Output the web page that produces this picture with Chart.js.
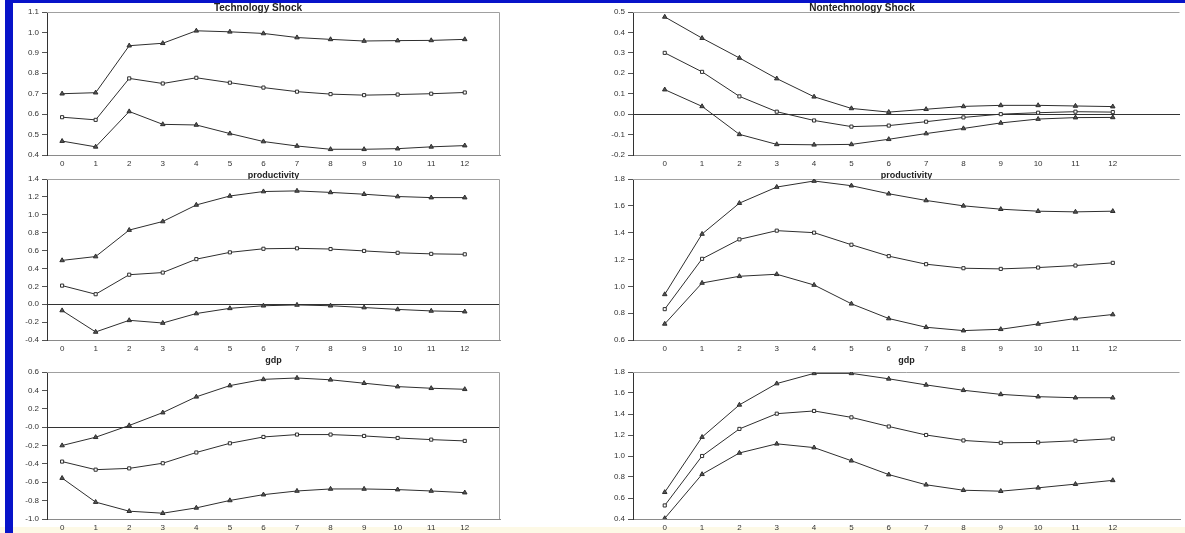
<!DOCTYPE html>
<html>
<head>
<meta charset="utf-8">
<script src="https://cdn.jsdelivr.net/npm/chart.js@4.4.1/dist/chart.umd.min.js"></script>
<style>
  html, body { margin: 0; padding: 0; }
  body { width: 1185px; height: 533px; position: relative; overflow: hidden; background: #ffffff; font-family: 'Liberation Sans', Arial, sans-serif; }
  .frame-top { position: absolute; left: 5px; top: 0px; width: 1180px; height: 3px; background: #0713c9; }
  .frame-left { position: absolute; left: 5px; top: 0px; width: 8px; height: 533px; background: #0713c9; }
  .foot { position: absolute; left: 0; top: 527px; width: 1185px; height: 6px; background: #fdf9e6; }
  .col-title { position: absolute; top: 3px; font-weight: bold; font-size: 10px; line-height: 10px; color: #222; transform: translateX(-50%); white-space: nowrap; z-index: 2; }
  .panel { position: absolute; }
</style>
</head>
<body>
<div class="foot"></div>
<div class="frame-top"></div>
<div class="frame-left"></div>
<div class="col-title" style="left:258px">Technology Shock</div>
<div class="col-title" style="left:862px">Nontechnology Shock</div>

<script>
// Horizon (quarters after the shock)
const steps = [0, 1, 2, 3, 4, 5, 6, 7, 8, 9, 10, 11, 12];

// Technology shock - productivity
const techProdUpper = [0.70, 0.705, 0.935, 0.947, 1.008, 1.003, 0.995, 0.975, 0.966, 0.958, 0.96, 0.961, 0.966];
const techProdMid   = [0.585, 0.572, 0.775, 0.75, 0.778, 0.754, 0.73, 0.71, 0.698, 0.693, 0.696, 0.70, 0.706];
const techProdLower = [0.468, 0.44, 0.613, 0.55, 0.547, 0.505, 0.466, 0.444, 0.428, 0.428, 0.431, 0.44, 0.446];
const techProdTicks = ['0.4', '0.5', '0.6', '0.7', '0.8', '0.9', '1.0', '1.1'];

// Nontechnology shock - productivity
const nonProdUpper = [0.476, 0.372, 0.275, 0.174, 0.085, 0.028, 0.01, 0.024, 0.038, 0.043, 0.043, 0.04, 0.037];
const nonProdMid   = [0.30, 0.207, 0.087, 0.012, -0.031, -0.061, -0.056, -0.037, -0.016, 0.0, 0.007, 0.012, 0.01];
const nonProdLower = [0.12, 0.038, -0.099, -0.148, -0.15, -0.148, -0.123, -0.095, -0.07, -0.043, -0.024, -0.017, -0.016];
const nonProdTicks = ['-0.2', '-0.1', '0.0', '0.1', '0.2', '0.3', '0.4', '0.5'];

// Technology shock - gdp
const techGdpUpper = [0.49, 0.533, 0.829, 0.925, 1.11, 1.21, 1.26, 1.267, 1.25, 1.23, 1.204, 1.192, 1.192];
const techGdpMid   = [0.208, 0.112, 0.33, 0.354, 0.504, 0.58, 0.62, 0.625, 0.617, 0.596, 0.575, 0.563, 0.558];
const techGdpLower = [-0.07, -0.31, -0.18, -0.21, -0.104, -0.046, -0.017, -0.008, -0.017, -0.037, -0.058, -0.075, -0.083];
const techGdpTicks = ['-0.4', '-0.2', '0.0', '0.2', '0.4', '0.6', '0.8', '1.0', '1.2', '1.4'];

// Nontechnology shock - gdp
const nonGdpUpper = [0.94, 1.39, 1.62, 1.74, 1.785, 1.75, 1.69, 1.64, 1.60, 1.575, 1.56, 1.555, 1.56];
const nonGdpMid   = [0.83, 1.205, 1.35, 1.415, 1.40, 1.31, 1.225, 1.165, 1.135, 1.13, 1.14, 1.155, 1.175];
const nonGdpLower = [0.72, 1.025, 1.075, 1.09, 1.01, 0.87, 0.76, 0.695, 0.67, 0.68, 0.72, 0.76, 0.79];
const nonGdpTicks = ['0.6', '0.8', '1.0', '1.2', '1.4', '1.6', '1.8'];

// Technology shock - hours
const techHoursUpper = [-0.2, -0.11, 0.018, 0.158, 0.33, 0.452, 0.52, 0.535, 0.515, 0.478, 0.441, 0.423, 0.412];
const techHoursMid   = [-0.375, -0.463, -0.449, -0.393, -0.276, -0.176, -0.107, -0.081, -0.081, -0.096, -0.118, -0.136, -0.15];
const techHoursLower = [-0.555, -0.816, -0.915, -0.937, -0.879, -0.798, -0.735, -0.695, -0.673, -0.673, -0.68, -0.695, -0.713];
const techHoursTicks = ['-1.0', '-0.8', '-0.6', '-0.4', '-0.2', '-0.0', '0.2', '0.4', '0.6'];

// Nontechnology shock - hours
const nonHoursUpper = [0.655, 1.18, 1.487, 1.69, 1.787, 1.787, 1.735, 1.677, 1.626, 1.587, 1.565, 1.555, 1.555];
const nonHoursMid   = [0.529, 1.0, 1.258, 1.403, 1.429, 1.368, 1.281, 1.2, 1.148, 1.126, 1.129, 1.145, 1.165];
const nonHoursLower = [0.406, 0.826, 1.029, 1.116, 1.08, 0.955, 0.823, 0.726, 0.674, 0.665, 0.697, 0.732, 0.768];
const nonHoursTicks = ['0.4', '0.6', '0.8', '1.0', '1.2', '1.4', '1.6', '1.8'];

const panelTitles = ['productivity', 'gdp', 'hours'];

// Layout of the grid (pixels)
const cols = [
  { left: 15, width: 500, axisW: 32, padRight: 15, xMin: -0.45, xMax: 13.05, rightEdge: true },
  { left: 590, width: 595, axisW: 43, padRight: 3, xMin: -0.85, xMax: 13.8, rightEdge: false }
];
const rows = [
  { top: 12, bottom: 155 },
  { top: 179, bottom: 340 },
  { top: 372, bottom: 519 }
];
const PAD_TOP = 8;
const X_AXIS_H = 26;
const INK = '#2e2e2e';

const panels = [
  { col: 0, row: 0, series: [techProdUpper, techProdMid, techProdLower], ticks: techProdTicks },
  { col: 1, row: 0, series: [nonProdUpper, nonProdMid, nonProdLower], ticks: nonProdTicks },
  { col: 0, row: 1, series: [techGdpUpper, techGdpMid, techGdpLower], ticks: techGdpTicks },
  { col: 1, row: 1, series: [nonGdpUpper, nonGdpMid, nonGdpLower], ticks: nonGdpTicks },
  { col: 0, row: 2, series: [techHoursUpper, techHoursMid, techHoursLower], ticks: techHoursTicks },
  { col: 1, row: 2, series: [nonHoursUpper, nonHoursMid, nonHoursLower], ticks: nonHoursTicks }
];

// light box on the top and right side of each plot
function frameBox(withRight) {
  return {
    id: 'frameBox',
    beforeDatasetsDraw(chart) {
      const a = chart.chartArea;
      const ctx = chart.ctx;
      ctx.save();
      ctx.strokeStyle = '#a0a0a0';
      ctx.lineWidth = 1;
      ctx.beginPath();
      ctx.moveTo(a.left, a.top + 0.5);
      ctx.lineTo(a.right - 0.5, a.top + 0.5);
      if (withRight) ctx.lineTo(a.right - 0.5, a.bottom);
      ctx.stroke();
      ctx.restore();
    }
  };
}

function makeDataset(values, marker) {
  return {
    data: values.map((v, i) => ({ x: steps[i], y: v })),
    borderColor: INK,
    borderWidth: 1,
    pointStyle: marker,
    pointRadius: marker === 'triangle' ? 2.6 : 2.2,
    pointBackgroundColor: marker === 'triangle' ? '#555' : '#fff',
    pointBorderColor: INK,
    pointBorderWidth: 1,
    tension: 0,
    fill: false
  };
}

panels.forEach(function(p) {
  const c = cols[p.col];
  const r = rows[p.row];
  const div = document.createElement('div');
  div.className = 'panel';
  const h = (r.bottom - r.top) + PAD_TOP + X_AXIS_H;
  div.style.left = c.left + 'px';
  div.style.top = (r.top - PAD_TOP) + 'px';
  div.style.width = c.width + 'px';
  div.style.height = h + 'px';
  const canvas = document.createElement('canvas');
  div.appendChild(canvas);
  document.body.appendChild(div);

  const tickValues = p.ticks.map(t => parseFloat(t));

  new Chart(canvas.getContext('2d'), {
    type: 'line',
    data: {
      datasets: [
        makeDataset(p.series[0], 'triangle'),
        makeDataset(p.series[1], 'rect'),
        makeDataset(p.series[2], 'triangle')
      ]
    },
    options: {
      responsive: true,
      maintainAspectRatio: false,
      animation: false,
      layout: { padding: { top: PAD_TOP, right: c.padRight, left: 0, bottom: 0 } },
      plugins: { legend: { display: false }, tooltip: { enabled: false } },
      scales: {
        x: {
          type: 'linear',
          min: c.xMin,
          max: c.xMax,
          afterBuildTicks: s => { s.ticks = steps.map(v => ({ value: v })); },
          afterFit: s => { s.height = X_AXIS_H; },
          grid: { display: true, drawOnChartArea: false, drawTicks: false },
          border: { display: true, color: '#8a8a8a', width: 1 },
          ticks: { padding: 4, color: '#333', font: { family: 'Liberation Sans', size: 8 }, maxRotation: 0, callback: v => String(v) },
          title: { display: true, text: panelTitles[p.row], color: '#222', padding: { top: 1, bottom: 0 }, font: { family: 'Liberation Sans', size: 9, weight: 'bold' } }
        },
        y: {
          min: tickValues[0],
          max: tickValues[tickValues.length - 1],
          afterBuildTicks: s => { s.ticks = tickValues.map(v => ({ value: v })); },
          afterFit: s => { s.width = c.axisW; },
          grid: {
            drawOnChartArea: true,
            drawTicks: true,
            tickLength: 5,
            color: ctx => (ctx.tick && ctx.tick.value === 0 && ctx.index !== 0) ? '#333' : 'rgba(0,0,0,0)',
            tickColor: '#555'
          },
          border: { display: true, color: '#333', width: 1 },
          ticks: { padding: 3, color: '#333', font: { family: 'Liberation Sans', size: 8 }, callback: (v, i) => p.ticks[i] }
        }
      }
    },
    plugins: [frameBox(c.rightEdge)]
  });
});
</script>
</body>
</html>
